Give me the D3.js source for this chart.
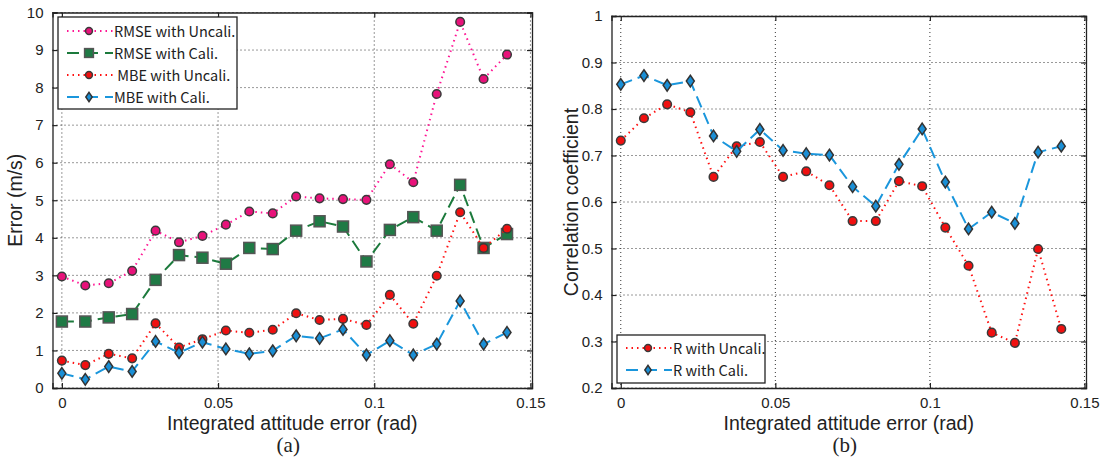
<!DOCTYPE html>
<html>
<head>
<meta charset="utf-8">
<script src="https://cdn.jsdelivr.net/npm/d3@7"></script>
<style>
  body { margin: 0; background: #fff; }
  svg text { fill: #222; }
</style>
</head>
<body>
<div class="fig"></div>
<script>
// shared x positions (integrated attitude error, rad)
var attErr = [0, 0.0075, 0.015, 0.0225, 0.03, 0.0375, 0.045, 0.0525, 0.06, 0.0675,
    0.075, 0.0825, 0.09, 0.0975, 0.105, 0.1125, 0.12, 0.1275, 0.135, 0.1425];

// panel (a)
var rmseUncali = [2.97, 2.73, 2.79, 3.12, 4.19, 3.88, 4.05, 4.35, 4.70, 4.65,
    5.10, 5.05, 5.03, 5.01, 5.96, 5.48, 7.83, 9.75, 8.23, 8.88];
var rmseCali = [1.77, 1.77, 1.88, 1.97, 2.88, 3.54, 3.47, 3.31, 3.73, 3.70,
    4.19, 4.44, 4.30, 3.37, 4.21, 4.55, 4.19, 5.41, 3.73, 4.10];
var mbeUncali = [0.73, 0.61, 0.91, 0.79, 1.72, 1.08, 1.30, 1.53, 1.47, 1.55,
    1.99, 1.81, 1.84, 1.68, 2.48, 1.71, 2.99, 4.68, 3.73, 4.24];
var mbeCali = [0.39, 0.23, 0.57, 0.44, 1.24, 0.94, 1.22, 1.04, 0.91, 0.99,
    1.39, 1.32, 1.56, 0.88, 1.26, 0.88, 1.17, 2.32, 1.17, 1.48];

// panel (b)
var rUncali = [0.732, 0.780, 0.810, 0.793, 0.654, 0.720, 0.729, 0.654, 0.666, 0.636,
    0.559, 0.559, 0.645, 0.634, 0.545, 0.463, 0.319, 0.297, 0.499, 0.327];
var rCali = [0.853, 0.872, 0.851, 0.860, 0.742, 0.709, 0.756, 0.711, 0.704, 0.701,
    0.633, 0.591, 0.681, 0.757, 0.643, 0.542, 0.578, 0.554, 0.707, 0.720];

var xTicks = [0, 0.05, 0.1, 0.15];
var xTickLabels = ['0', '0.05', '0.1', '0.15'];
var yTicksA = [0, 1, 2, 3, 4, 5, 6, 7, 8, 9, 10];
var yTicksB = [0.2, 0.3, 0.4, 0.5, 0.6, 0.7, 0.8, 0.9, 1];
var yTickLabelsB = ['0.2', '0.3', '0.4', '0.5', '0.6', '0.7', '0.8', '0.9', '1'];

var PINK = '#ff1493', GREEN = '#1c7a3c', RED = '#ff1010', BLUE = '#1a96dc';

var svg = d3.select('.fig').append('svg')
    .attr('width', 1101)
    .attr('height', 463);

var axisFont = '"Liberation Sans", Arial, sans-serif';
var legendFont = '"Noto Sans CJK SC", "DejaVu Sans", sans-serif';

// k scales the marker (legend uses smaller ones)
function drawMarker(g, type, fill, x, y, k) {
    k = k || 1;
    if (type === 'circle') {
        g.append('circle').attr('cx', x).attr('cy', y).attr('r', 4.3 * k)
            .attr('fill', fill).attr('stroke', '#3a3a3a').attr('stroke-width', 1.5);
    } else if (type === 'square') {
        var h = 5.5 * k;
        g.append('rect').attr('x', x - h).attr('y', y - h).attr('width', 2 * h).attr('height', 2 * h)
            .attr('fill', fill).attr('stroke', '#555').attr('stroke-width', 1.5);
    } else {
        var w = 4 * k, t = 5.8 * k;
        g.append('path')
            .attr('d', 'M' + x + ',' + (y - t) + 'L' + (x + w) + ',' + y + 'L' + x + ',' + (y + t) + 'L' + (x - w) + ',' + y + 'Z')
            .attr('fill', fill).attr('stroke', '#333').attr('stroke-width', 1.5);
    }
}

function panel(opts) {
    var x = d3.scaleLinear().domain([-0.003, 0.1505]).range([opts.left, opts.right]);
    var y = d3.scaleLinear().domain(opts.yDomain).range([opts.bottom, opts.top]);
    var g = svg.append('g');

    // dotted grid
    g.selectAll('.gx').data(xTicks).enter().append('line')
        .attr('x1', function (d) { return x(d); }).attr('x2', function (d) { return x(d); })
        .attr('y1', opts.top).attr('y2', opts.bottom)
        .attr('stroke', '#333').attr('stroke-width', 1).attr('stroke-dasharray', '1,3');
    g.selectAll('.gy').data(opts.yTicks).enter().append('line')
        .attr('x1', opts.left).attr('x2', opts.right)
        .attr('y1', function (d) { return y(d); }).attr('y2', function (d) { return y(d); })
        .attr('stroke', '#333').attr('stroke-width', 1).attr('stroke-dasharray', '1,3');

    // axes with inward ticks on all sides
    var ax = g.append('g').attr('transform', 'translate(0,' + opts.bottom + ')')
        .call(d3.axisBottom(x).tickValues(xTicks).tickSize(-5).tickPadding(9)
            .tickFormat(function (d, i) { return xTickLabels[i]; }));
    var axT = g.append('g').attr('transform', 'translate(0,' + opts.top + ')')
        .call(d3.axisTop(x).tickValues(xTicks).tickSize(-5).tickFormat(''));
    var ay = g.append('g').attr('transform', 'translate(' + opts.left + ',0)')
        .call(d3.axisLeft(y).tickValues(opts.yTicks).tickSize(-5).tickPadding(9)
            .tickFormat(function (d, i) { return opts.yLabels[i]; }));
    var ayR = g.append('g').attr('transform', 'translate(' + opts.right + ',0)')
        .call(d3.axisRight(y).tickValues(opts.yTicks).tickSize(-5).tickFormat(''));
    [ax, axT, ay, ayR].forEach(function (a) {
        a.select('.domain').attr('stroke', '#222').attr('stroke-width', 1.3);
        a.selectAll('.tick line').attr('stroke', '#222').attr('stroke-width', 1.2);
        a.selectAll('text').style('font-family', axisFont).style('font-size', '15px').attr('fill', '#333');
    });

    // series
    opts.series.forEach(function (s) {
        var line = d3.line()
            .x(function (d, i) { return x(attErr[i]); })
            .y(function (d) { return y(d); });
        g.append('path').datum(s.values)
            .attr('d', line)
            .attr('fill', 'none')
            .attr('stroke', s.color)
            .attr('stroke-width', 2)
            .attr('stroke-dasharray', s.dash);
        s.values.forEach(function (v, i) {
            drawMarker(g, s.marker, s.fill, x(attErr[i]), y(v));
        });
    });

    // axis titles
    g.append('text')
        .attr('x', (opts.left + opts.right) / 2).attr('y', 430)
        .attr('text-anchor', 'middle')
        .style('font-family', axisFont).style('font-size', '19.5px')
        .text('Integrated attitude error (rad)');
    g.append('text')
        .attr('transform', 'translate(' + opts.yTitleX + ',' + ((opts.top + opts.bottom) / 2) + ') rotate(-90)')
        .attr('text-anchor', 'middle')
        .style('font-family', axisFont).style('font-size', '19.5px')
        .text(opts.yTitle);
    g.append('text')
        .attr('x', (opts.left + opts.right) / 2 - 4).attr('y', 452)
        .attr('text-anchor', 'middle')
        .style('font-family', '"Liberation Serif", "Times New Roman", serif').style('font-size', '21px')
        .text(opts.tag);

    // legend
    var lg = opts.legend;
    g.append('rect')
        .attr('x', lg.x).attr('y', lg.y).attr('width', lg.w).attr('height', lg.h)
        .attr('fill', '#fff').attr('stroke', '#222').attr('stroke-width', 1.3);
    opts.series.forEach(function (s, i) {
        var yy = lg.y + lg.row0 + i * lg.rowStep;
        g.append('line')
            .attr('x1', lg.x + 9).attr('x2', lg.x + 55)
            .attr('y1', yy).attr('y2', yy)
            .attr('stroke', s.color).attr('stroke-width', 2)
            .attr('stroke-dasharray', s.legendDash);
        drawMarker(g, s.marker, s.fill, lg.x + 31, yy, 0.8);
        g.append('text')
            .attr('x', lg.x + 56).attr('y', yy + 5.5)
            .attr('xml:space', 'preserve')
            .style('white-space', 'pre')
            .style('font-family', legendFont).style('font-size', '14.5px')
            .text(s.name);
    });
}

panel({
    left: 52.5, right: 532, top: 12.5, bottom: 388,
    yDomain: [0, 10], yTicks: yTicksA,
    yLabels: yTicksA.map(String),
    yTitle: 'Error (m/s)', yTitleX: 22, tag: '(a)',
    legend: { x: 58, y: 17, w: 179, h: 92, row0: 14, rowStep: 22 },
    series: [
        { name: 'RMSE with Uncali.', values: rmseUncali, color: PINK, fill: '#e8127a', marker: 'circle', dash: '1.5,4', legendDash: '1.5,4' },
        { name: 'RMSE with Cali.', values: rmseCali, color: GREEN, fill: '#1f7a45', marker: 'square', dash: '12,6', legendDash: '12,7' },
        { name: ' MBE with Uncali.', values: mbeUncali, color: RED, fill: '#f01010', marker: 'circle', dash: '1.5,4', legendDash: '1.5,4' },
        { name: 'MBE with Cali.', values: mbeCali, color: BLUE, fill: '#1a8fd6', marker: 'diamond', dash: '12,6', legendDash: '12,7' }
    ]
});

panel({
    left: 611.5, right: 1086, top: 16, bottom: 388,
    yDomain: [0.2, 1], yTicks: yTicksB,
    yLabels: yTickLabelsB,
    yTitle: 'Correlation coefficient', yTitleX: 578, tag: '(b)',
    legend: { x: 617, y: 335, w: 148, h: 48, row0: 13, rowStep: 22 },
    series: [
        { name: 'R with Uncali.', values: rUncali, color: RED, fill: '#f01010', marker: 'circle', dash: '1.5,4', legendDash: '1.5,4' },
        { name: 'R with Cali.', values: rCali, color: BLUE, fill: '#1a8fd6', marker: 'diamond', dash: '12,6', legendDash: '12,7' }
    ]
});
</script>
</body>
</html>
